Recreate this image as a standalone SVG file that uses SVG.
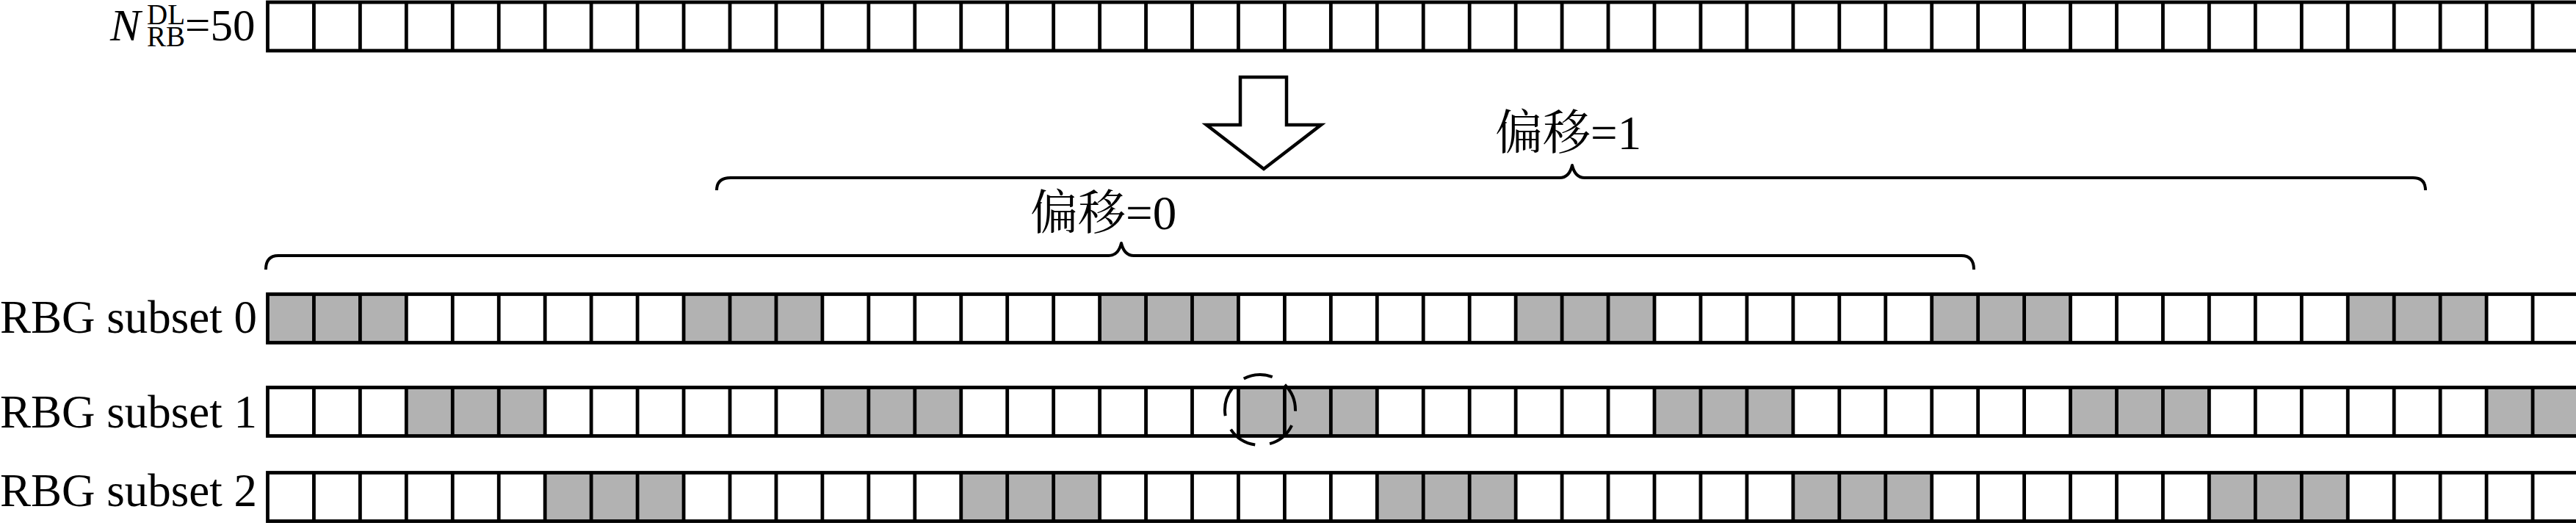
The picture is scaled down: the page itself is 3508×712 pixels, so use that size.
<svg xmlns="http://www.w3.org/2000/svg" xmlns:xlink="http://www.w3.org/1999/xlink" width="3508" height="712" viewBox="0 0 3508 712">
<style>
.lbl{font-family:"Liberation Serif","Times New Roman",serif;fill:#000}
.cjk{font-family:"Liberation Serif","Noto Serif CJK SC","Noto Sans CJK SC",serif;fill:#000}
.frame{fill:none;stroke:#000;stroke-width:4.8}
.on{fill:#b2b2b2;stroke:none}
.brace{fill:none;stroke:#000;stroke-width:4;stroke-linejoin:round}
</style>
<defs>
<g id="grid">
<rect class="frame" x="364.5" y="0" width="3147.5" height="66"/>
<path class="frame" d="M427.45 0V66M490.4 0V66M553.35 0V66M616.3 0V66M679.25 0V66M742.2 0V66M805.15 0V66M868.1 0V66M931.05 0V66M994 0V66M1056.95 0V66M1119.9 0V66M1182.85 0V66M1245.8 0V66M1308.75 0V66M1371.7 0V66M1434.65 0V66M1497.6 0V66M1560.55 0V66M1623.5 0V66M1686.45 0V66M1749.4 0V66M1812.35 0V66M1875.3 0V66M1938.25 0V66M2001.2 0V66M2064.15 0V66M2127.1 0V66M2190.05 0V66M2253 0V66M2315.95 0V66M2378.9 0V66M2441.85 0V66M2504.8 0V66M2567.75 0V66M2630.7 0V66M2693.65 0V66M2756.6 0V66M2819.55 0V66M2882.5 0V66M2945.45 0V66M3008.4 0V66M3071.35 0V66M3134.3 0V66M3197.25 0V66M3260.2 0V66M3323.15 0V66M3386.1 0V66M3449.05 0V66"/>
</g>
</defs>

<g id="row-all">
<text class="lbl" font-size="62"><tspan x="150" y="55" font-style="italic">N</tspan><tspan x="200" y="33" font-size="39">DL</tspan><tspan x="200" y="63" font-size="39">RB</tspan><tspan x="252" y="55" font-size="61">=50</tspan></text>
<use xlink:href="#grid" transform="translate(0,3)"/>
</g>

<g id="subset0">
<text class="lbl" x="350" y="452.5" font-size="63" text-anchor="end">RBG subset 0</text>
<g transform="translate(0,400.5)">
<rect class="on" x="364.5" y="0" width="188.85" height="66"/>
<rect class="on" x="931.05" y="0" width="188.85" height="66"/>
<rect class="on" x="1497.6" y="0" width="188.85" height="66"/>
<rect class="on" x="2064.15" y="0" width="188.85" height="66"/>
<rect class="on" x="2630.7" y="0" width="188.85" height="66"/>
<rect class="on" x="3197.25" y="0" width="188.85" height="66"/>
<use xlink:href="#grid"/>
</g>
</g>

<g id="subset1">
<text class="lbl" x="350" y="581.5" font-size="63" text-anchor="end">RBG subset 1</text>
<g transform="translate(0,527.5)">
<rect class="on" x="553.35" y="0" width="188.85" height="66"/>
<rect class="on" x="1119.9" y="0" width="188.85" height="66"/>
<rect class="on" x="1686.45" y="0" width="188.85" height="66"/>
<rect class="on" x="2253" y="0" width="188.85" height="66"/>
<rect class="on" x="2819.55" y="0" width="188.85" height="66"/>
<rect class="on" x="3386.1" y="0" width="125.9" height="66"/>
<use xlink:href="#grid"/>
</g>
</g>

<g id="subset2">
<text class="lbl" x="350" y="688.5" font-size="63" text-anchor="end">RBG subset 2</text>
<g transform="translate(0,643.5)">
<rect class="on" x="742.2" y="0" width="188.85" height="66"/>
<rect class="on" x="1308.75" y="0" width="188.85" height="66"/>
<rect class="on" x="1875.3" y="0" width="188.85" height="66"/>
<rect class="on" x="2441.85" y="0" width="188.85" height="66"/>
<rect class="on" x="3008.4" y="0" width="188.85" height="66"/>
<use xlink:href="#grid"/>
</g>
</g>

<g id="offset0">
<text class="cjk" x="1403" y="312" font-size="65">偏移=0</text>
</g>
<g id="offset1">
<text class="cjk" x="2036" y="203" font-size="65">偏移=1</text>
</g>

<g id="connectors">
<polygon points="1689,105 1752,105 1752,170 1799,170 1721,230 1643,170 1689,170" fill="#fff" stroke="#000" stroke-width="4.5" stroke-linejoin="miter"/>
<path class="brace" d="M362,367 Q362,348 379,348 L1510,348 Q1523,348 1527,331 Q1531,348 1544,348 L2671,348 Q2688,348 2688,367"/>
<path class="brace" d="M976,259 Q976,242 995,242 L2124,242 Q2137,242 2141,225 Q2145,242 2158,242 L3286,242 Q3303,242 3303,259"/>
<circle cx="1716" cy="558" r="48" fill="none" stroke="#000" stroke-width="4" stroke-dasharray="40.2 20.1" stroke-dashoffset="38.5"/>
</g>
</svg>
